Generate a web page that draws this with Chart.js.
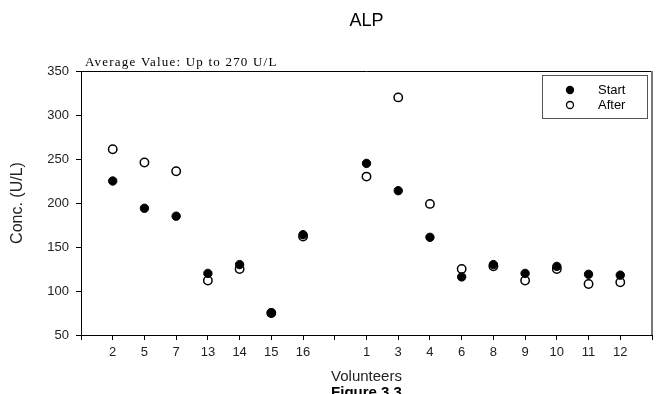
<!DOCTYPE html>
<html>
<head>
<meta charset="utf-8">
<script src="https://cdn.jsdelivr.net/npm/chart.js@4/dist/chart.umd.min.js"></script>
<style>
  html, body { margin: 0; padding: 0; background: #fff; }
  #wrap { width: 658px; height: 394px; }
</style>
</head>
<body>
<div id="wrap"><canvas id="graficoALP" width="658" height="394"></canvas></div>
<script>
// Datos (los huecos '' separan los dos grupos de voluntarios)
const voluntarios = ['', '2', '5', '7', '13', '14', '15', '16', '', '1', '3', '4', '6', '8', '9', '10', '11', '12', ''];
const inicio  = [null, 225, 194, 185, 120, 130, 75, 164, null, 245, 214, 161, 116, 130, 120, 128, 119, 118, null];
const despues = [null, 261, 246, 236, 112, 125, 75, 162, null, 230, 320, 199, 125, 128, 112, 125, 108, 110, null];
const ticksY = [50, 100, 150, 200, 250, 300, 350];

const fuente = "'Liberation Sans', Arial, sans-serif";

// Plugin para el título, la nota, el marco y la leyenda
const extras = {
    id: 'extras',
    afterDraw(chart) {
        const c = chart.ctx;
        const a = chart.chartArea;
        c.save();
        // Marco superior y derecho
        c.strokeStyle = '#000';
        c.lineWidth = 1;
        c.beginPath();
        c.moveTo(a.left, a.top + 0.5);
        c.lineTo(a.right, a.top + 0.5);
        c.stroke();
        c.strokeStyle = '#777';
        c.lineWidth = 2;
        c.beginPath();
        c.moveTo(a.right, a.top);
        c.lineTo(a.right, a.bottom);
        c.stroke();

        // Título
        c.fillStyle = '#000';
        c.font = '18px ' + fuente;
        c.textAlign = 'center';
        c.textBaseline = 'middle';
        c.fillText('ALP', (a.left + a.right) / 2, 21);

        // Nota
        c.font = "13px 'Liberation Serif', 'Times New Roman', serif";
        c.letterSpacing = '1.2px';
        c.textAlign = 'left';
        c.textBaseline = 'alphabetic';
        c.fillText('Average Value: Up to 270 U/L', 85, 66);
        c.letterSpacing = '0px';

        // Pie de figura (cortado por abajo como en el original)
        c.font = 'bold 15px ' + fuente;
        c.textAlign = 'center';
        c.textBaseline = 'top';
        c.fillText('Figure 3.3', (a.left + a.right) / 2, 385);

        // Leyenda
        const bx = 542, by = 75, bw = 105, bh = 43;
        c.fillStyle = '#fff';
        c.fillRect(bx, by, bw, bh);
        c.strokeStyle = '#555';
        c.lineWidth = 1;
        c.strokeRect(bx + 0.5, by + 0.5, bw, bh);
        const items = [
            { texto: 'Start', ds: chart.data.datasets[0], y: by + 15 },
            { texto: 'After', ds: chart.data.datasets[1], y: by + 30 }
        ];
        items.forEach(function(it) {
            c.beginPath();
            c.arc(570, it.y, 3.5, 0, Math.PI * 2);
            c.fillStyle = it.ds.pointBackgroundColor;
            c.fill();
            c.lineWidth = 1.3;
            c.strokeStyle = '#000';
            c.stroke();
            c.fillStyle = '#000';
            c.font = '13px ' + fuente;
            c.textAlign = 'left';
            c.textBaseline = 'middle';
            c.fillText(it.texto, 598, it.y);
        });
        c.restore();
    }
};

const ctx = document.getElementById('graficoALP').getContext('2d');
new Chart(ctx, {
    type: 'line',
    data: {
        labels: voluntarios,
        datasets: [{
            label: 'Start',
            data: inicio,
            showLine: false,
            pointRadius: 4.2,
            pointBackgroundColor: '#000',
            pointBorderColor: '#000',
            pointBorderWidth: 1
        }, {
            label: 'After',
            data: despues,
            showLine: false,
            pointRadius: 4.2,
            pointBackgroundColor: '#fff',
            pointBorderColor: '#000',
            pointBorderWidth: 1.5
        }]
    },
    options: {
        responsive: false,
        animation: false,
        layout: { padding: { left: 0, right: 6, top: 71, bottom: 0 } },
        plugins: {
            legend: { display: false },
            tooltip: { enabled: false }
        },
        scales: {
            x: {
                type: 'category',
                offset: false,
                grid: { display: true, drawOnChartArea: false, drawTicks: true, tickLength: 5, color: '#000' },
                border: { color: '#000', width: 1 },
                ticks: { color: '#222', font: { family: fuente, size: 13 }, padding: 5, autoSkip: false, maxRotation: 0 },
                title: { display: true, text: 'Volunteers', color: '#222', font: { family: fuente, size: 15 }, padding: { top: 4, bottom: 8 } },
                afterFit(scale) { scale.height = 59; }
            },
            y: {
                min: 50,
                max: 350,
                afterBuildTicks(scale) { scale.ticks = ticksY.map(v => ({ value: v })); },
                grid: { display: true, drawOnChartArea: false, drawTicks: true, tickLength: 5, color: '#000' },
                border: { color: '#000', width: 1 },
                ticks: { color: '#222', font: { family: fuente, size: 13 }, padding: 7 },
                title: { display: true, text: 'Conc. (U/L)', color: '#222', font: { family: fuente, size: 16 }, padding: { top: 8, bottom: 0 } },
                afterFit(scale) { scale.width = 81; }
            }
        }
    },
    plugins: [extras]
});
</script>
</body>
</html>
